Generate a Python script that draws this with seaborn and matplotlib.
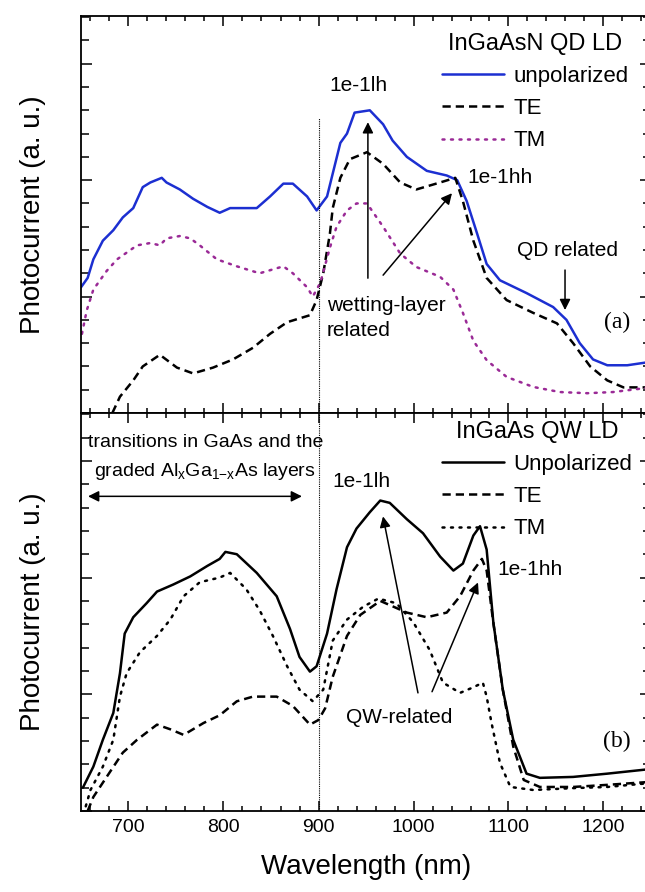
import matplotlib
matplotlib.use("Agg")
import matplotlib.pyplot as plt
from matplotlib.ticker import MultipleLocator, NullFormatter
import seaborn as sns

# --- panel (a): InGaAsN QD LD ---
qd_unpol_wl = [650, 657, 663, 673, 684, 694, 705, 715, 723, 735, 740, 754, 768, 783, 796, 807, 835, 849,
               863, 873, 888, 898, 909, 923, 930, 938, 954, 968, 978, 993, 1014, 1035, 1046, 1056, 1067,
               1077, 1091, 1119, 1147, 1161, 1175, 1189, 1204, 1225, 1250]
qd_unpol = [5.4, 5.8, 6.6, 7.4, 7.85, 8.4, 8.8, 9.7, 9.9, 10.1, 9.9, 9.6, 9.2, 8.85, 8.6, 8.8, 8.8, 9.3,
            9.85, 9.85, 9.3, 8.7, 9.3, 11.6, 12.0, 12.9, 13.0, 12.4, 11.7, 11.0, 10.4, 10.2, 10.0, 9.1, 7.7,
            6.4, 5.7, 5.15, 4.55, 4.0, 3.0, 2.3, 2.05, 2.05, 2.2]

qd_te_wl = [683, 691, 705, 715, 733, 751, 768, 789, 810, 831, 849, 867, 891, 898, 905, 912, 915, 923, 933,
            951, 968, 986, 1003, 1028, 1044, 1052, 1063, 1077, 1098, 1126, 1151, 1168, 1186, 1204, 1221, 1250]
qd_te = [0.0, 0.7, 1.4, 2.0, 2.5, 1.95, 1.7, 1.95, 2.3, 2.8, 3.4, 3.9, 4.2, 4.85, 6.0, 7.7, 8.8, 10.1, 10.9,
         11.2, 10.7, 9.9, 9.6, 9.9, 10.1, 9.1, 7.4, 5.8, 4.85, 4.3, 3.85, 3.0, 2.0, 1.4, 1.1, 1.1]

qd_tm_wl = [651, 656, 663, 677, 688, 709, 723, 733, 740, 754, 765, 775, 793, 814, 838, 863, 873, 888, 894,
            902, 912, 919, 930, 940, 951, 968, 986, 1003, 1028, 1042, 1052, 1063, 1077, 1098, 1126, 1154,
            1183, 1210, 1250]
qd_tm = [3.4, 4.4, 5.3, 6.1, 6.6, 7.2, 7.3, 7.2, 7.5, 7.6, 7.5, 7.2, 6.6, 6.3, 6.0, 6.3, 6.0, 5.4, 5.0,
         5.6, 7.1, 8.0, 8.7, 9.0, 9.0, 8.0, 6.85, 6.27, 5.85, 5.3, 4.3, 3.1, 2.27, 1.55, 1.12, 0.9,
         0.85, 0.9, 1.1]

# --- panel (b): InGaAs QW LD ---
qw_unpol_wl = [652, 663, 673, 684, 691, 696, 705, 719, 730, 747, 765, 783, 796, 802, 814, 835, 856, 870,
               880, 891, 898, 909, 919, 930, 940, 954, 965, 975, 993, 1010, 1028, 1042, 1052, 1063, 1070,
               1077, 1084, 1094, 1105, 1119, 1133, 1168, 1204, 1250]
qw_unpol = [1.0, 1.9, 3.05, 4.2, 5.9, 7.6, 8.3, 8.9, 9.4, 9.7, 10.05, 10.5, 10.8, 11.1, 11.0, 10.2, 9.2, 7.8,
            6.6, 5.97, 6.2, 7.6, 9.5, 11.3, 12.1, 12.8, 13.3, 13.2, 12.5, 11.9, 10.9, 10.3, 10.6, 11.8, 12.2,
            11.2, 8.1, 5.2, 3.05, 1.6, 1.42, 1.46, 1.6, 1.8]

qw_te_wl = [657, 663, 677, 694, 709, 730, 744, 758, 779, 796, 814, 831, 856, 873, 891, 900, 907, 915, 930,
            944, 965, 993, 1014, 1035, 1049, 1063, 1072, 1077, 1084, 1094, 1105, 1116, 1133, 1168, 1204, 1250]
qw_te = [0.0, 0.6, 1.46, 2.5, 3.05, 3.7, 3.5, 3.26, 3.77, 4.1, 4.7, 4.9, 4.9, 4.5, 3.7, 3.9, 4.4, 5.75, 7.5,
         8.4, 9.0, 8.5, 8.3, 8.5, 9.2, 10.3, 10.8, 10.3, 8.07, 5.2, 2.76, 1.33, 1.03, 1.03, 1.12, 1.25]

qw_tm_wl = [655, 660, 673, 684, 691, 698, 712, 730, 744, 758, 775, 796, 807, 824, 838, 852, 867, 880, 894,
            905, 915, 930, 947, 963, 982, 1000, 1017, 1031, 1049, 1063, 1073, 1077, 1082, 1091, 1102, 1126,
            1168, 1204, 1250]
qw_tm = [0.2, 0.9, 1.9, 3.05, 4.9, 5.9, 6.8, 7.5, 8.2, 9.2, 9.8, 10.0, 10.2, 9.5, 8.6, 7.5, 6.2, 5.2, 4.7,
         5.2, 7.3, 8.2, 8.75, 9.1, 8.9, 8.07, 6.9, 5.5, 5.06, 5.3, 5.5, 4.9, 3.8, 2.06, 1.03, 0.9,
         0.98, 1.03, 1.2]

x_ticks = [700, 800, 900, 1000, 1100, 1200]

sns.set_style("ticks")
plt.rcParams['font.family'] = ['Liberation Sans', 'DejaVu Sans']
plt.rcParams['mathtext.default'] = 'regular'
for key in ["text.color", "axes.labelcolor", "xtick.color", "ytick.color", "axes.edgecolor"]:
    plt.rcParams[key] = "black"

W, H = 645, 892
fig = plt.figure(figsize=(W / 100, H / 100), dpi=100)
ax_a = fig.add_axes([81 / W, 1 - 413 / H, 570 / W, 397 / H])
ax_b = fig.add_axes([81 / W, 1 - 811 / H, 570 / W, 398 / H], sharex=ax_a)

blue = "#1c2fd1"
purple = "#9a2a96"
dash = (0, (3.3, 2.0))
dot = (0, (0.8, 2.6))

sns.lineplot(x=qd_unpol_wl, y=qd_unpol, ax=ax_a, color=blue, lw=1.8, label="unpolarized", errorbar=None)
sns.lineplot(x=qd_te_wl, y=qd_te, ax=ax_a, color="black", lw=1.8, linestyle=dash, label="TE", errorbar=None)
sns.lineplot(x=qd_tm_wl, y=qd_tm, ax=ax_a, color=purple, lw=1.8, linestyle=dot, dash_capstyle="round",
             label="TM", errorbar=None)

sns.lineplot(x=qw_unpol_wl, y=qw_unpol, ax=ax_b, color="black", lw=1.8, label="Unpolarized", errorbar=None)
sns.lineplot(x=qw_te_wl, y=qw_te, ax=ax_b, color="black", lw=1.8, linestyle=dash, label="TE", errorbar=None)
sns.lineplot(x=qw_tm_wl, y=qw_tm, ax=ax_b, color="black", lw=1.8, linestyle=dot, dash_capstyle="round",
             label="TM", errorbar=None)

for ax in (ax_a, ax_b):
    ax.set_xlim(650, 1250)
    ax.set_ylim(0, 17.05)
    ax.set_xticks(x_ticks)
    ax.xaxis.set_minor_locator(MultipleLocator(20))
    ax.yaxis.set_major_locator(MultipleLocator(5))
    ax.yaxis.set_minor_locator(MultipleLocator(1))
    ax.yaxis.set_major_formatter(NullFormatter())
    ax.tick_params(which="both", direction="in", top=True, bottom=True, left=True, right=True,
                   width=1.1, color="black")
    ax.tick_params(axis="x", which="major", length=7)
    ax.tick_params(axis="x", which="minor", length=3.5)
    ax.tick_params(axis="y", which="major", length=8)
    ax.tick_params(axis="y", which="minor", length=5.5)
    ax.tick_params(axis="x", labelsize=14, pad=6, labelcolor="black")
    for s in ax.spines.values():
        s.set_linewidth(1.3)
        s.set_visible(True)
        s.set_color("black")
    ax.set_ylabel("Photocurrent (a. u.)", fontsize=20, labelpad=22, color="black")

ax_a.tick_params(axis="x", labelbottom=False)
ax_a.set_xlabel("")
ax_b.set_xlabel("Wavelength (nm)", fontsize=20, labelpad=13, color="black")

ax_a.axvline(900, ymin=0, ymax=12.66 / 17.05, color="black", lw=0.8, linestyle=(0, (1, 1)))
ax_b.axvline(900, color="black", lw=0.8, linestyle=(0, (1, 1)))

leg_kw = dict(loc="upper left", bbox_transform=fig.transFigure, frameon=False, fontsize=16,
              title_fontsize=17, handlelength=2.8, handletextpad=0.4, labelspacing=0.5,
              borderpad=0, borderaxespad=0, labelcolor="black")
ax_a.legend(bbox_to_anchor=(442 / W, 1 - 33 / H), title="InGaAsN QD LD", **leg_kw)
ax_b.legend(bbox_to_anchor=(442 / W, 1 - 421 / H), title="InGaAs QW LD", **leg_kw)

arrow = dict(arrowstyle="-|>", color="black", lw=1.1, mutation_scale=16, shrinkA=0, shrinkB=0)

# panel (a) annotations
ax_a.text(941.6, 14.08, "1e-1lh", fontsize=15, ha="center", va="center")
ax_a.annotate("", xy=(952, 12.49), xytext=(952, 5.79), arrowprops=arrow)
ax_a.annotate("", xy=(1040.5, 9.44), xytext=(968, 5.92), arrowprops=arrow)
ax_a.text(1091, 10.13, "1e-1hh", fontsize=15, ha="center", va="center")
ax_a.text(909, 4.08, "wetting-layer\nrelated", fontsize=15, ha="left", va="center", linespacing=1.45)
ax_a.text(1161.6, 7.0, "QD related", fontsize=15, ha="center", va="center")
ax_a.annotate("", xy=(1159.5, 4.42), xytext=(1159.5, 6.14), arrowprops=arrow)
ax_a.text(1214, 3.9, "(a)", fontsize=17, ha="center", va="center", family="Liberation Serif")

# panel (b) annotations
ax_b.text(781.6, 15.79, "transitions in GaAs and the", fontsize=14, ha="center", va="center")
ax_b.text(780.5, 14.55, "graded Al$_x$Ga$_{1{-}x}$As layers", fontsize=14, ha="center", va="center")
ax_b.annotate("", xy=(882.6, 13.48), xytext=(657.4, 13.48),
              arrowprops=dict(arrowstyle="<|-|>", color="black", lw=1.1, mutation_scale=16,
                              shrinkA=0, shrinkB=0))
ax_b.text(944.7, 14.12, "1e-1lh", fontsize=15, ha="center", va="center")
ax_b.text(1122.6, 10.34, "1e-1hh", fontsize=15, ha="center", va="center")
ax_b.annotate("", xy=(967.9, 12.62), xytext=(1004.7, 5.06), arrowprops=arrow)
ax_b.annotate("", xy=(1067.9, 9.79), xytext=(1019.5, 5.11), arrowprops=arrow)
ax_b.text(984.7, 3.99, "QW-related", fontsize=15, ha="center", va="center")
ax_b.text(1214, 2.96, "(b)", fontsize=17, ha="center", va="center", family="Liberation Serif")

fig.savefig("out.png", dpi=100)
